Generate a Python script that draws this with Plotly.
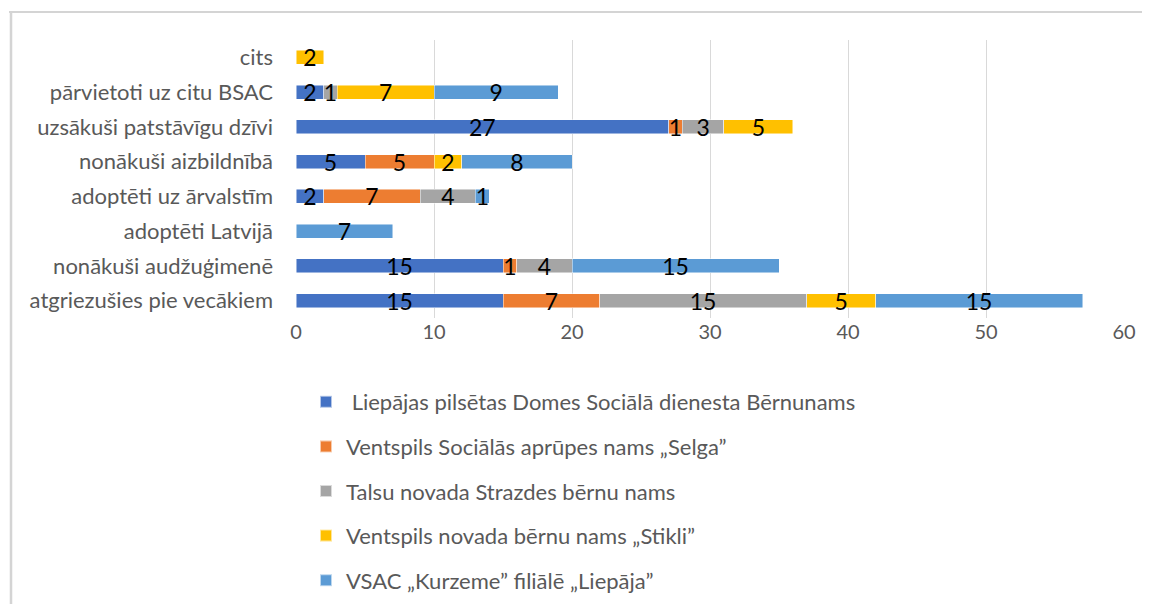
import plotly.graph_objects as go

categories = [
    "atgriezušies pie vecākiem",
    "nonākuši audžuģimenē",
    "adoptēti Latvijā",
    "adoptēti uz ārvalstīm",
    "nonākuši aizbildnībā",
    "uzsākuši patstāvīgu dzīvi",
    "pārvietoti uz citu BSAC",
    "cits",
]
series_names = [
    "\u00a0Liepājas pilsētas Domes Sociālā dienesta Bērnunams",
    "Ventspils Sociālās aprūpes nams „Selga”",
    "Talsu novada Strazdes bērnu nams",
    "Ventspils novada bērnu nams „Stikli”",
    "VSAC „Kurzeme” filiālē „Liepāja”",
]
liepajas_bn = [15, 15, None, 2, 5, 27, 2, None]
selga = [7, 1, None, 7, 5, 1, None, None]
strazdes = [15, 4, None, 4, None, 3, 1, None]
stikli = [5, None, None, None, 2, 5, 7, 2]
vsac = [15, 15, 7, 1, 8, None, 9, None]
series_values = [liepajas_bn, selga, strazdes, stikli, vsac]
colors = ["#4472C4", "#ED7D31", "#A5A5A5", "#FFC000", "#5B9BD5"]
x_ticks = [0, 10, 20, 30, 40, 50, 60]

# page has an 8px body margin on every side; fit the figure inside it
OFF = 8
W, H = 1150 - 2 * OFF, 612 - 2 * OFF
L, T = 296 - OFF, 40 - OFF
pw, ph = 828, 278
R, B = W - L - pw, H - T - ph

def px_x(x):
    return (x - OFF - L) / pw

def px_y(y):
    return (T + ph - (y - OFF)) / ph

FONT = "Lato, 'Open Sans', sans-serif"

fig = go.Figure()
for i, (name, vals, col) in enumerate(zip(series_names, series_values, colors)):
    fig.add_trace(go.Bar(
        y=categories, x=vals, name=name, orientation="h",
        marker=dict(color=col, line=dict(color="rgba(255,255,255,0.6)", width=0.8)),
        text=[("" if v is None else str(v)) for v in vals],
        textposition="inside", insidetextanchor="middle",
        textangle=0, constraintext="none", cliponaxis=False,
        textfont=dict(family=FONT, size=23, color="#000000"),
        legendgroup=f"g{i}",
        width=0.4,
    ))

fig.update_layout(
    width=W, height=H,
    margin=dict(l=L, r=R, t=T, b=B, autoexpand=False),
    barmode="stack",
    plot_bgcolor="white", paper_bgcolor="white",
    font=dict(family=FONT, color="#595959", size=20),
    xaxis=dict(range=[0, 60], tickvals=x_ticks, showgrid=True, gridcolor="#D9D9D9",
               gridwidth=1, zeroline=False, showline=False, ticks="",
               tickfont=dict(size=20, color="#595959"), fixedrange=True),
    yaxis=dict(categoryorder="array", categoryarray=categories, showgrid=False,
               showline=False, ticks="", ticklabelstandoff=22,
               tickfont=dict(size=22, color="#595959")),
    showlegend=True,
    legend=dict(x=px_x(306), y=px_y(381), xanchor="left", yanchor="top",
                traceorder="grouped", tracegroupgap=13,
                font=dict(size=22, color="#595959", family=FONT),
                itemsizing="constant", bgcolor="rgba(0,0,0,0)"),
)

# chart frame (left and top edges of the chart area)
fig.add_shape(type="line", xref="paper", yref="paper", layer="above",
              x0=px_x(9), x1=px_x(1150), y0=px_y(12), y1=px_y(12),
              line=dict(color="#D4D4D4", width=2))
fig.add_shape(type="line", xref="paper", yref="paper", layer="above",
              x0=px_x(11), x1=px_x(11), y0=px_y(12), y1=px_y(604),
              line=dict(color="#D4D4D4", width=2.5))

fig.write_html("out.html")
